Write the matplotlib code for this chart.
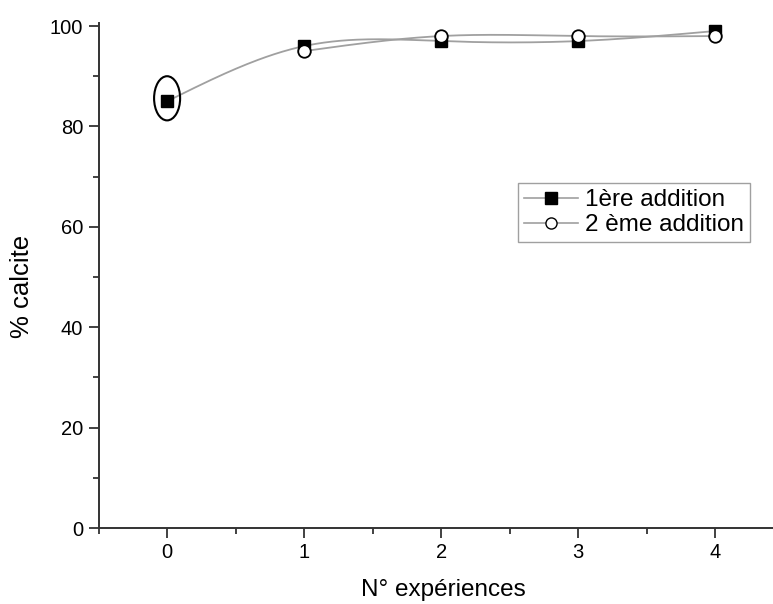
import numpy as np
import matplotlib
matplotlib.use("Agg")
import matplotlib.pyplot as plt
from matplotlib.patches import Ellipse
from matplotlib.lines import Line2D
from matplotlib.ticker import MultipleLocator

plt.rcParams['font.family'] = ['Liberation Sans', 'DejaVu Sans']

experiences = [0, 1, 2, 3, 4]
addition1 = [85, 96, 97, 97, 99]
exp2 = [1, 2, 3, 4]
addition2 = [95, 98, 98, 98]
xticks = [0, 1, 2, 3, 4]
yticks = [0, 20, 40, 60, 80, 100]


def natural_spline(x, y, n=200):
    x = np.asarray(x, float)
    y = np.asarray(y, float)
    m = len(x)
    h = np.diff(x)
    A = np.zeros((m, m))
    b = np.zeros(m)
    A[0, 0] = 1
    A[-1, -1] = 1
    for i in range(1, m - 1):
        A[i, i - 1] = h[i - 1]
        A[i, i] = 2 * (h[i - 1] + h[i])
        A[i, i + 1] = h[i]
        b[i] = 3 * ((y[i + 1] - y[i]) / h[i] - (y[i] - y[i - 1]) / h[i - 1])
    c = np.linalg.solve(A, b)
    xs = np.linspace(x[0], x[-1], n)
    ys = np.empty_like(xs)
    for k, xv in enumerate(xs):
        i = min(np.searchsorted(x, xv, side='right') - 1, m - 2)
        dx = xv - x[i]
        bi = (y[i + 1] - y[i]) / h[i] - h[i] * (2 * c[i] + c[i + 1]) / 3
        di = (c[i + 1] - c[i]) / (3 * h[i])
        ys[k] = y[i] + bi * dx + c[i] * dx ** 2 + di * dx ** 3
    return xs, ys


W, H = 773, 604
fig = plt.figure(figsize=(W / 100, H / 100), dpi=100)
ax = fig.add_axes([98.6 / W, 76 / H, 685 / W, 505 / H])

line_col = '#a0a0a0'
sx, sy = natural_spline(experiences, addition1)
ax.plot(sx, sy, color=line_col, lw=1.3, zorder=2)
sx2, sy2 = natural_spline(exp2, addition2)
ax.plot(sx2, sy2, color=line_col, lw=1.3, zorder=2)

ax.plot(experiences, addition1, ls='none', marker='s', ms=8.5, mfc='black',
        mec='black', mew=1.0, zorder=4)
ax.plot(exp2, addition2, ls='none', marker='o', ms=9, mfc='white',
        mec='black', mew=1.3, zorder=5)

ax.add_patch(Ellipse((0, 85.6), width=0.19, height=8.8, fill=False,
                     ec='black', lw=1.5, zorder=6))

ax.set_xlim(-0.5, 4.5)
ax.set_ylim(0, 100.6)
ax.set_xticks(xticks)
ax.set_yticks(yticks)
ax.xaxis.set_minor_locator(MultipleLocator(0.5))
ax.yaxis.set_minor_locator(MultipleLocator(10))
for s in ['top', 'right']:
    ax.spines[s].set_visible(False)
for s in ['left', 'bottom']:
    ax.spines[s].set_linewidth(1.4)
    ax.spines[s].set_color('#333333')
ax.tick_params(which='major', direction='out', length=7, width=1.3,
               color='#333333', labelsize=14.5, pad=4)
ax.tick_params(which='minor', direction='out', length=4, width=1.3,
               color='#333333')

fig.text(443 / W, 1 - 590 / H, 'N° expériences', fontsize=17.5,
         ha='center', va='center')
fig.text(22 / W, 1 - 286 / H, '% calcite', fontsize=18.5, rotation=90,
         ha='center', va='center')

h1 = Line2D([], [], color=line_col, lw=1.2, marker='s', ms=8, mfc='black', mec='black')
h2 = Line2D([], [], color=line_col, lw=1.2, marker='o', ms=8, mfc='white', mec='black')
leg = fig.legend([h1, h2], ['1ère addition', '2 ème addition'],
                 loc='upper left', bbox_to_anchor=(518 / W, 1 - 183 / H),
                 fontsize=17.5, frameon=True, fancybox=False, handlelength=2.2,
                 handletextpad=0.3, borderpad=0.25, labelspacing=0.12,
                 borderaxespad=0)
leg.get_frame().set_edgecolor('#888888')
leg.get_frame().set_linewidth(1.0)

fig.savefig('out.png', dpi=100)
